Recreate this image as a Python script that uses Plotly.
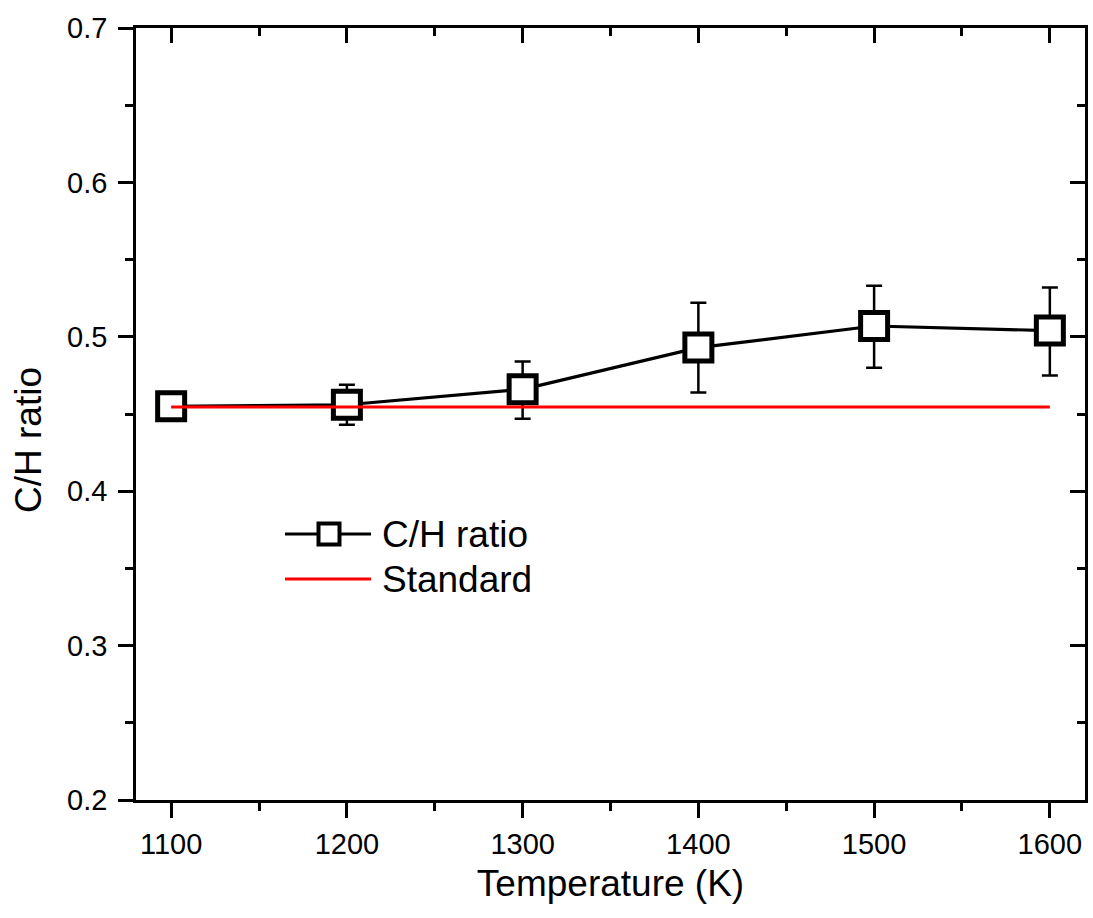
import plotly.graph_objects as go

# ---- data ----
temperature = [1100, 1200, 1300, 1400, 1500, 1600]
ch_ratio = [0.455, 0.456, 0.466, 0.493, 0.507, 0.504]
err_plus = [0.008, 0.013, 0.018, 0.029, 0.026, 0.028]
err_minus = [0.008, 0.013, 0.019, 0.029, 0.027, 0.029]
standard_x = [1100, 1600]
standard_value = 0.4545
x_ticks = [1100, 1200, 1300, 1400, 1500, 1600]
y_ticks = [0.2, 0.3, 0.4, 0.5, 0.6, 0.7]

W, H = 1093, 918
ML, MR, MT, MB = 136, 8, 28, 118
PW, PH = W - ML - MR, H - MT - MB
FONT = "Arial, Liberation Sans, sans-serif"


def px_x(p):
    return (p - ML) / PW


def px_y(p):
    return (H - MB - p) / PH


fig = go.Figure()
fig.add_trace(go.Scatter(
    x=temperature, y=ch_ratio, mode="lines+markers", name="C/H ratio",
    line=dict(color="black", width=3.2),
    marker=dict(symbol="square", size=27, color="white",
                line=dict(color="black", width=5)),
    error_y=dict(type="data", array=err_plus, arrayminus=err_minus,
                 color="black", thickness=2.5, width=8),
    showlegend=False,
))
fig.add_trace(go.Scatter(
    x=standard_x, y=[standard_value] * len(standard_x), mode="lines",
    name="Standard", line=dict(color="#ff0000", width=3), showlegend=False,
))
# invisible helpers so the top and right frame axes are drawn
fig.add_trace(go.Scatter(x=standard_x, y=[standard_value] * 2, xaxis="x2", yaxis="y",
                         mode="lines", line=dict(width=0), opacity=0,
                         hoverinfo="skip", showlegend=False))
fig.add_trace(go.Scatter(x=standard_x, y=[standard_value] * 2, xaxis="x", yaxis="y2",
                         mode="lines", line=dict(width=0), opacity=0,
                         hoverinfo="skip", showlegend=False))

axis_common = dict(showgrid=False, zeroline=False, showline=True,
                   linecolor="black", linewidth=2.5, tickcolor="black",
                   tickwidth=2.5, ticklen=15)

fig.update_layout(
    width=W, height=H,
    margin=dict(l=ML, r=MR, t=MT, b=MB, pad=0),
    paper_bgcolor="white", plot_bgcolor="white",
    font=dict(family=FONT, color="black"),
    xaxis=dict(range=[1080, 1620], tickvals=x_ticks, ticks="outside",
               tickfont=dict(size=29), ticklabelstandoff=1,
               minor=dict(ticks="outside", dtick=50, tick0=1100, ticklen=8,
                          tickwidth=2.5, tickcolor="black"),
               title=dict(text="Temperature (K)", font=dict(size=37), standoff=12),
               **axis_common),
    yaxis=dict(range=[0.2, 0.7], tickvals=y_ticks, ticktext=[f"{v:.1f}" for v in y_ticks],
               ticks="outside", tickfont=dict(size=29), ticklabelstandoff=5,
               minor=dict(ticks="outside", dtick=0.05, tick0=0.2, ticklen=8,
                          tickwidth=2.5, tickcolor="black"),
               **axis_common),
    xaxis2=dict(range=[1080, 1620], overlaying="x", side="top", anchor="y",
                tickvals=x_ticks, ticks="inside", showticklabels=False,
                minor=dict(ticks="inside", dtick=50, tick0=1100, ticklen=8,
                           tickwidth=2.5, tickcolor="black"),
                **axis_common),
    yaxis2=dict(range=[0.2, 0.7], overlaying="y", side="right", anchor="x",
                tickvals=y_ticks, ticks="inside", showticklabels=False,
                minor=dict(ticks="inside", dtick=0.05, tick0=0.2, ticklen=8,
                           tickwidth=2.5, tickcolor="black"),
                **axis_common),
    showlegend=False,
)

# y-axis title
fig.add_annotation(text="C/H ratio", xref="paper", yref="paper",
                   x=px_x(28), y=px_y(440), xanchor="center", yanchor="middle",
                   textangle=-90, showarrow=False,
                   font=dict(size=37, family=FONT, color="black"))

# ---- manual legend (paper coordinates) ----
leg_line_x0, leg_line_x1 = 285, 371
leg_y1, leg_y2 = 534, 579
sq = 12.5
fig.add_shape(type="line", xref="paper", yref="paper",
              x0=px_x(leg_line_x0), x1=px_x(leg_line_x1),
              y0=px_y(leg_y1), y1=px_y(leg_y1),
              line=dict(color="black", width=3))
fig.add_shape(type="rect", xref="paper", yref="paper",
              x0=px_x(329 - sq + 2), x1=px_x(329 + sq - 2),
              y0=px_y(leg_y1 + sq - 2), y1=px_y(leg_y1 - sq + 2),
              fillcolor="white", line=dict(color="black", width=4))
fig.add_shape(type="line", xref="paper", yref="paper",
              x0=px_x(leg_line_x0), x1=px_x(leg_line_x1),
              y0=px_y(leg_y2), y1=px_y(leg_y2),
              line=dict(color="#ff0000", width=3))
for label, yy in [("C/H ratio", leg_y1), ("Standard", leg_y2)]:
    fig.add_annotation(text=label, xref="paper", yref="paper",
                       x=px_x(380), y=px_y(yy), xanchor="left", yanchor="middle",
                       showarrow=False, font=dict(size=37, family=FONT, color="black"))

fig.write_html("out.html")
